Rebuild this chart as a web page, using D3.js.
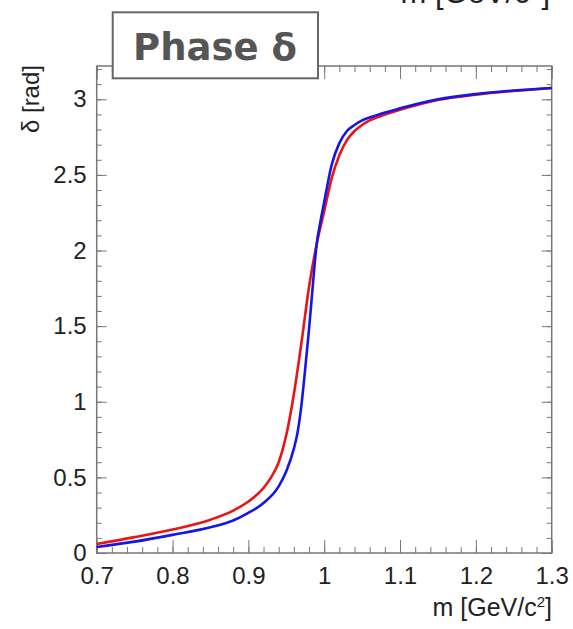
<html>
<head>
<meta charset="utf-8">
<script src="https://d3js.org/d3.v7.min.js"></script>
<style>
body { margin: 0; background: #fff; }
.tick text { font-family: "Liberation Sans", Arial, sans-serif; font-size: 24px; fill: #222; }
.tick line { stroke: #777; }
</style>
</head>
<body>
<svg width="573" height="629"></svg>
<script>
// mass values (GeV/c^2) and phase (rad)
var massRed = [0.70, 0.75, 0.80, 0.85, 0.88, 0.90, 0.92, 0.93, 0.94, 0.945, 0.95, 0.96, 0.97, 0.98, 0.99, 1.00, 1.01, 1.02, 1.03, 1.04, 1.05, 1.06, 1.075, 1.10, 1.15, 1.20, 1.25, 1.30];
var phaseRed = [0.06, 0.105, 0.155, 0.22, 0.28, 0.34, 0.43, 0.50, 0.60, 0.68, 0.78, 1.05, 1.39, 1.76, 2.04, 2.26, 2.48, 2.63, 2.73, 2.79, 2.83, 2.86, 2.89, 2.93, 2.995, 3.03, 3.055, 3.075];

var massBlue = [0.70, 0.75, 0.80, 0.85, 0.88, 0.90, 0.92, 0.94, 0.95, 0.96, 0.965, 0.97, 0.975, 0.98, 0.985, 0.99, 0.995, 1.00, 1.01, 1.02, 1.03, 1.04, 1.05, 1.06, 1.075, 1.10, 1.15, 1.20, 1.25, 1.30];
var phaseBlue = [0.04, 0.075, 0.12, 0.17, 0.215, 0.265, 0.33, 0.44, 0.54, 0.69, 0.80, 0.98, 1.22, 1.48, 1.77, 2.04, 2.19, 2.32, 2.57, 2.71, 2.79, 2.83, 2.86, 2.88, 2.905, 2.94, 3.0, 3.035, 3.058, 3.075];

var xMajor = [0.7, 0.8, 0.9, 1.0, 1.1, 1.2, 1.3];
var xLabels = ["0.7", "0.8", "0.9", "1", "1.1", "1.2", "1.3"];
var yMajor = [0, 0.5, 1, 1.5, 2, 2.5, 3];
var yLabels = ["0", "0.5", "1", "1.5", "2", "2.5", "3"];

var svg = d3.select("svg");
var padL = 96.7, padR = 551.7, padT = 66, padB = 553;

var x = d3.scaleLinear().domain([0.7, 1.3]).range([padL, padR]);
var y = d3.scaleLinear().domain([0, 3.22]).range([padB, padT]);

var xMinor = d3.range(0.7, 1.3001, 0.02).map(function(v) { return +v.toFixed(2); });
var yMinor = d3.range(0, 3.2001, 0.1).map(function(v) { return +v.toFixed(1); });

function clean(g) { g.select(".domain").remove(); }

// bottom axis (ticks point into the frame)
svg.append("g").attr("transform", "translate(0," + padB + ")")
  .call(d3.axisBottom(x).tickValues(xMinor).tickSize(-6).tickFormat("")).call(clean);
svg.append("g").attr("transform", "translate(0," + padB + ")")
  .call(d3.axisBottom(x).tickValues(xMajor).tickSize(-13).tickPadding(14)
    .tickFormat(function(d, i) { return xLabels[i]; })).call(clean);
// top axis
svg.append("g").attr("transform", "translate(0," + padT + ")")
  .call(d3.axisTop(x).tickValues(xMinor).tickSize(-6).tickFormat("")).call(clean);
svg.append("g").attr("transform", "translate(0," + padT + ")")
  .call(d3.axisTop(x).tickValues(xMajor).tickSize(-13).tickFormat("")).call(clean);
// left axis
svg.append("g").attr("transform", "translate(" + padL + ",0)")
  .call(d3.axisLeft(y).tickValues(yMinor).tickSize(-5).tickFormat("")).call(clean);
svg.append("g").attr("transform", "translate(" + padL + ",0)")
  .call(d3.axisLeft(y).tickValues(yMajor).tickSize(-10).tickPadding(10)
    .tickFormat(function(d, i) { return yLabels[i]; })).call(clean);
// right axis
svg.append("g").attr("transform", "translate(" + padR + ",0)")
  .call(d3.axisRight(y).tickValues(yMinor).tickSize(-5).tickFormat("")).call(clean);
svg.append("g").attr("transform", "translate(" + padR + ",0)")
  .call(d3.axisRight(y).tickValues(yMajor).tickSize(-10).tickFormat("")).call(clean);

// frame
svg.append("rect")
  .attr("x", padL).attr("y", padT)
  .attr("width", padR - padL).attr("height", padB - padT)
  .attr("fill", "none").attr("stroke", "#777").attr("stroke-width", 1.5);

// curves
var line = d3.line()
  .x(function(d) { return x(d[0]); })
  .y(function(d) { return y(d[1]); })
  .curve(d3.curveMonotoneX);

svg.append("path")
  .datum(massRed.map(function(m, i) { return [m, phaseRed[i]]; }))
  .attr("d", line).attr("fill", "none").attr("stroke", "#e81515").attr("stroke-width", 2.6);
svg.append("path")
  .datum(massBlue.map(function(m, i) { return [m, phaseBlue[i]]; }))
  .attr("d", line).attr("fill", "none").attr("stroke", "#1515e8").attr("stroke-width", 2.6);

// axis titles
svg.append("text")
  .attr("transform", "translate(39," + (padT - 1) + ") rotate(-90)")
  .attr("text-anchor", "end")
  .style("font-family", "Liberation Sans, Arial, sans-serif").style("font-size", "24px").style("fill", "#222")
  .text("\u03b4 [rad]");

var xt = svg.append("text")
  .attr("x", 552).attr("y", 616)
  .attr("text-anchor", "end")
  .style("font-family", "Liberation Sans, Arial, sans-serif").style("font-size", "25px").style("fill", "#222");
xt.append("tspan").text("m [GeV/c");
xt.append("tspan").attr("dy", -9).style("font-size", "15px").text("2");
xt.append("tspan").attr("dy", 9).text("]");

// cut-off title from the panel above
var cut = svg.append("text")
  .attr("x", 550).attr("y", 3)
  .attr("text-anchor", "end")
  .style("font-family", "Liberation Sans, Arial, sans-serif").style("font-size", "31px").style("fill", "#222");
cut.append("tspan").text("m [GeV/c");
cut.append("tspan").attr("dy", -13).style("font-size", "21px").text("2");
cut.append("tspan").attr("dy", 13).text("]");

// title box
svg.append("rect")
  .attr("x", 112.7).attr("y", 12.3).attr("width", 205.3).attr("height", 66)
  .attr("fill", "#fff").attr("stroke", "#666").attr("stroke-width", 2);
svg.append("text")
  .attr("x", 215).attr("y", 60)
  .attr("text-anchor", "middle")
  .style("font-family", "DejaVu Sans, Verdana, sans-serif").style("font-weight", "bold")
  .style("font-size", "37px").style("fill", "#555")
  .text("Phase \u03b4");
</script>
</body>
</html>
